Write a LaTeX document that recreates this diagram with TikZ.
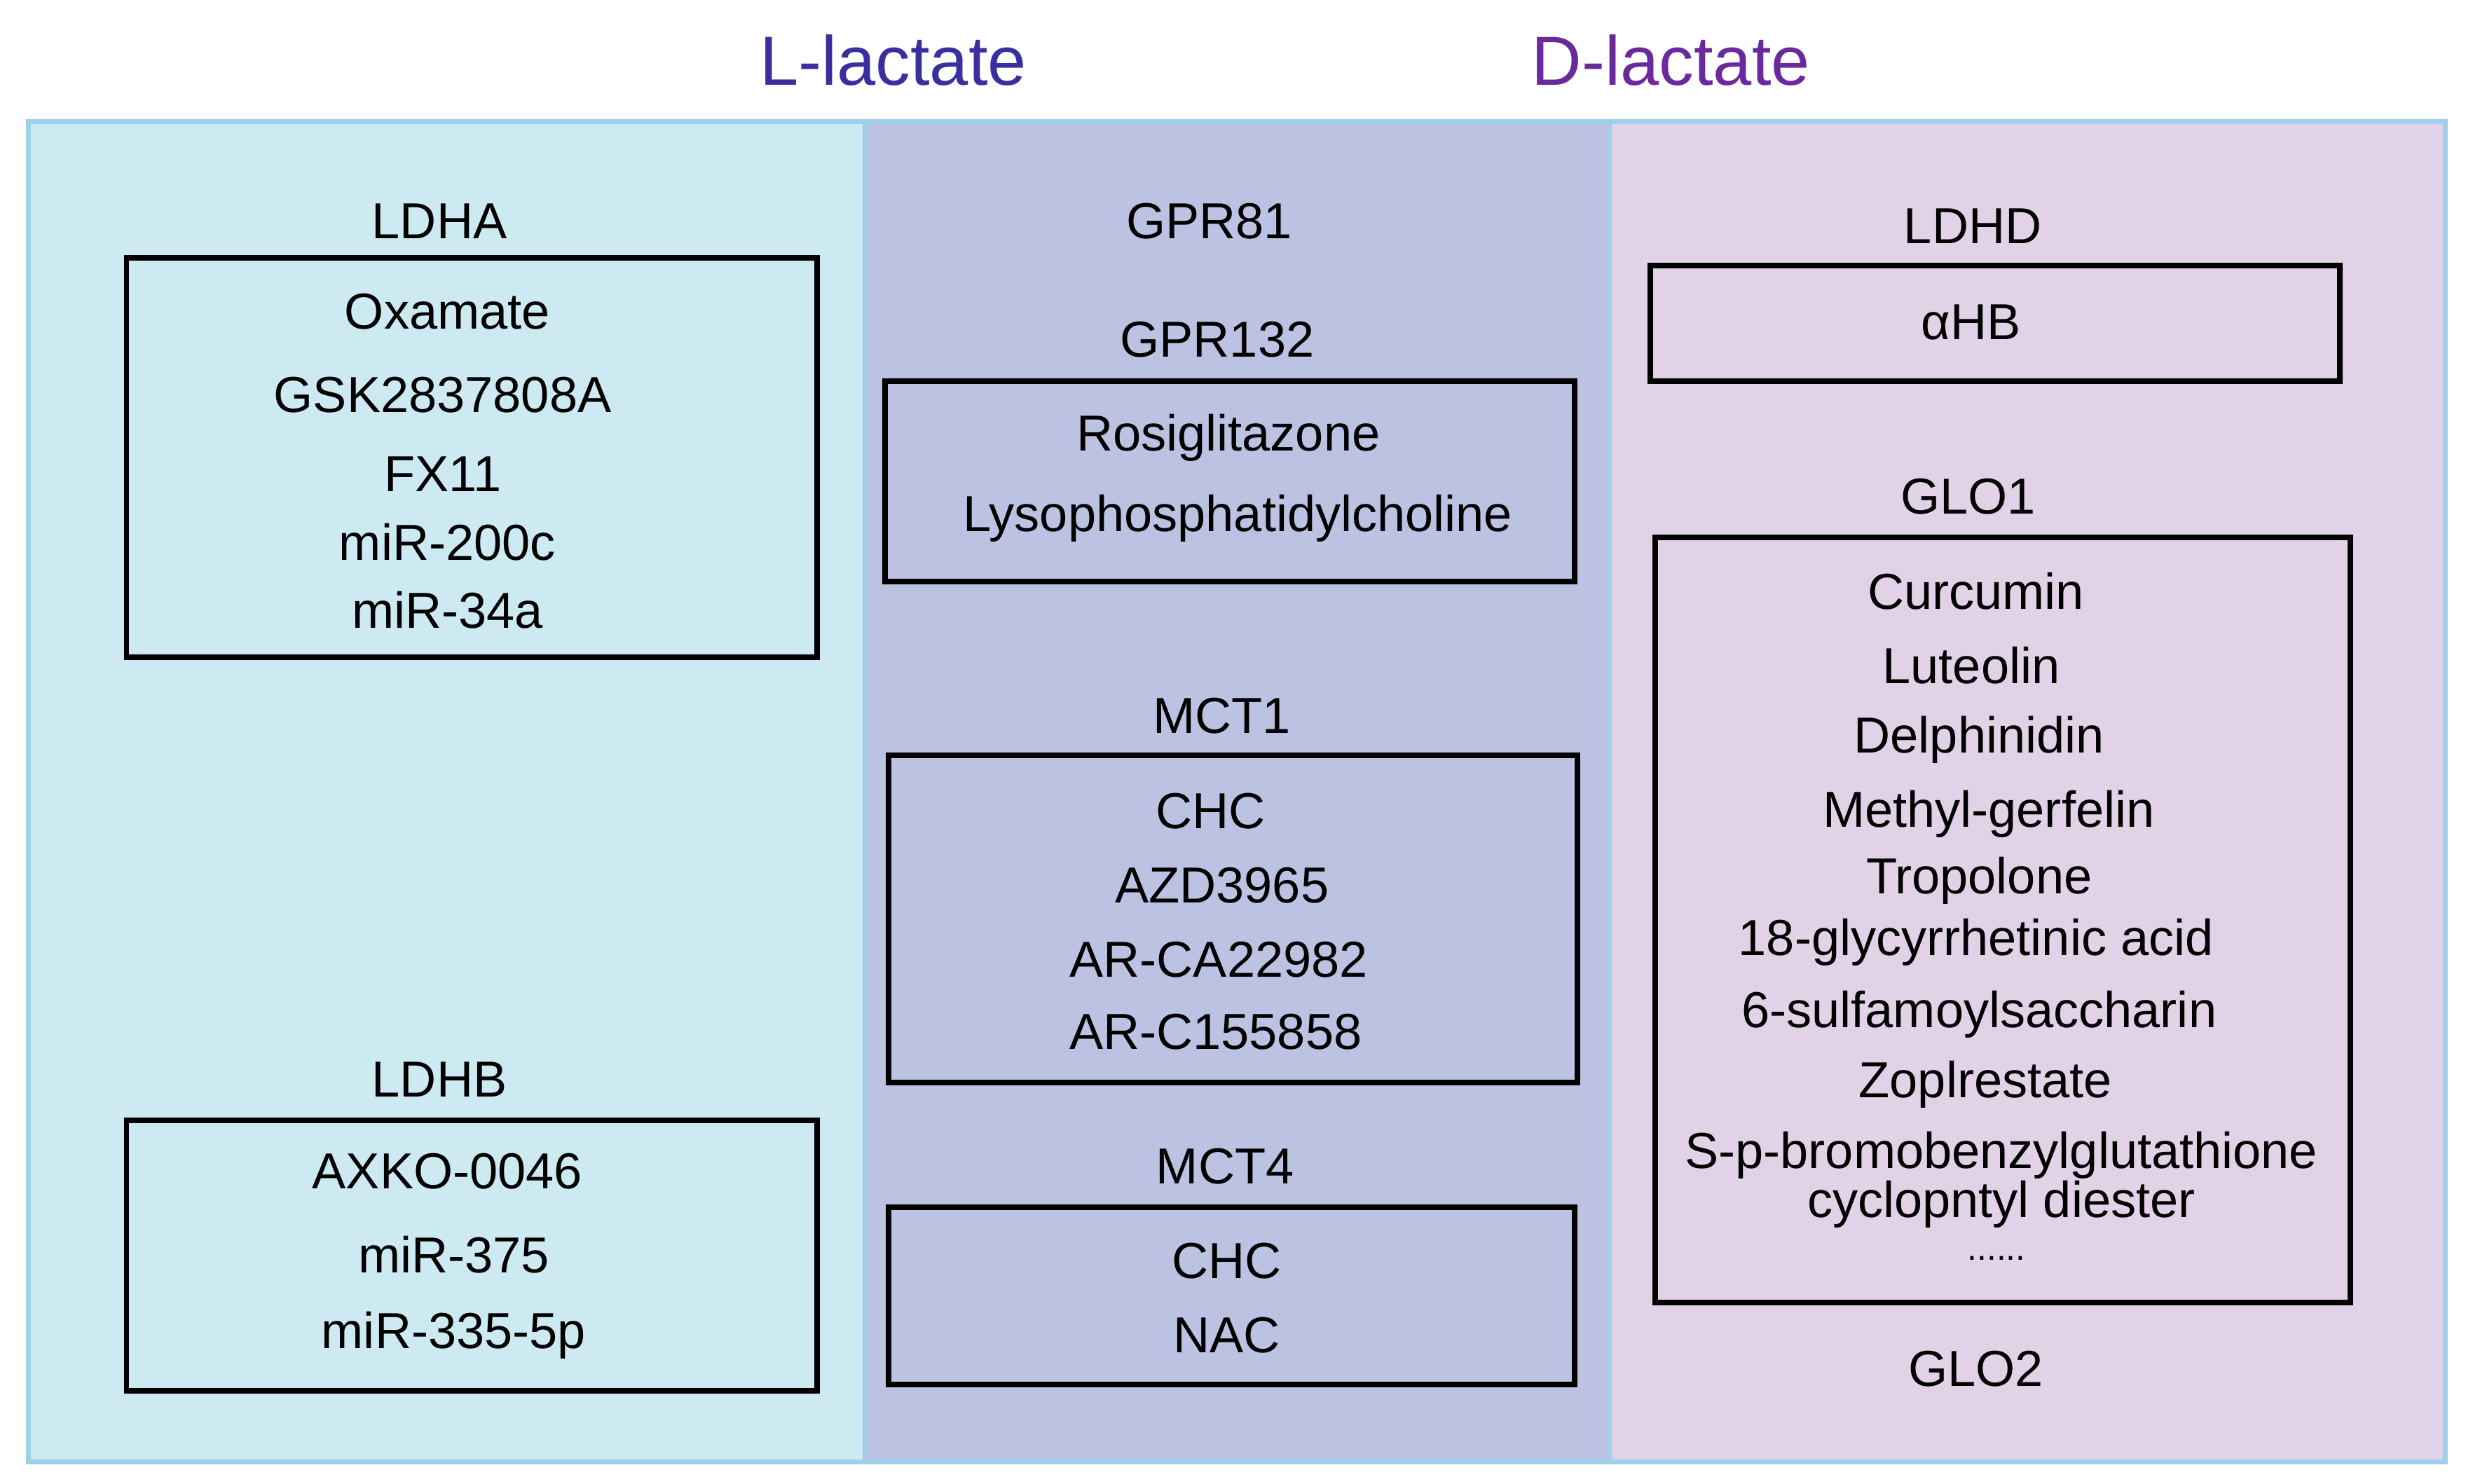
\documentclass[tikz,border=0pt]{standalone}
\usepackage{fontspec}
\setmainfont{Liberation Sans}
\definecolor{pL}{HTML}{CDEAF3}
\definecolor{pM}{HTML}{BCC3E2}
\definecolor{pR}{HTML}{E2D2E8}
\definecolor{pB}{HTML}{9FCFEA}
\definecolor{tL}{HTML}{3A2F9E}
\definecolor{tD}{HTML}{6A2A9C}
\begin{document}
\begin{tikzpicture}[x=1pt,y=-1pt,
  txt/.style={font=\fontsize{32}{36}\selectfont,inner sep=0pt,anchor=center},
  ttl/.style={font=\fontsize{44}{50}\selectfont,inner sep=0pt,anchor=center},
  bx/.style={draw=black,line width=3.5pt},
  pan/.style={draw=pB,line width=3pt}]
\useasboundingbox (0,0) rectangle (1560,938.5);
\fill[white] (0,0) rectangle (1560,938.5);
\filldraw[pan,fill=pL] (18,77) rectangle (547,925);
\filldraw[pan,fill=pM] (547,77) rectangle (1018,925);
\filldraw[pan,fill=pR] (1018,77) rectangle (1547,925);
\node[ttl,text=tL] (tl) at (565,38) {L-lactate};
\node[ttl,text=tD] (td) at (1057,38) {D-lactate};
% left
\node[txt] (ldha) at (278,140) {LDHA};
\draw[bx] (80,163) rectangle (517,416);
\node[txt] (a1) at (283,197) {Oxamate};
\node[txt] (a2) at (280,250) {GSK2837808A};
\node[txt] (a3) at (280,300) {FX11};
\node[txt] (a4) at (283,343) {miR-200c};
\node[txt] (a5) at (283,386) {miR-34a};
\node[txt] (ldhb) at (278,683) {LDHB};
\draw[bx] (80,709) rectangle (517,880);
\node[txt] (b1) at (283,741) {AXKO-0046};
\node[txt] (b2) at (287,794) {miR-375};
\node[txt] (b3) at (287,845) {miR-335-5p};
% middle
\node[txt] (g81) at (765,140) {GPR81};
\node[txt] (g132) at (770,215) {GPR132};
\draw[bx] (560,241) rectangle (996,368);
\node[txt] (c1) at (777,277) {Rosiglitazone};
\node[txt] (c2) at (783,328) {Lysophosphatidylcholine};
\node[txt] (m1) at (773,453) {MCT1};
\draw[bx] (562,478) rectangle (998,685);
\node[txt] (d1) at (766,513) {CHC};
\node[txt] (d2) at (773,560) {AZD3965};
\node[txt] (d3) at (771,607) {AR-CA22982};
\node[txt] (d4) at (769,653) {AR-C155858};
\node[txt] (m4) at (775,738) {MCT4};
\draw[bx] (562,764) rectangle (996,876);
\node[txt] (e1) at (776,798) {CHC};
\node[txt] (e2) at (776,845) {NAC};
% right
\node[txt] (ldhd) at (1248,143) {LDHD};
\draw[bx] (1044,168) rectangle (1480,241);
\node[txt] (f1) at (1247,204) {αHB};
\node[txt] (glo1) at (1245,314) {GLO1};
\draw[bx] (1047,340) rectangle (1487,824);
\node[txt] (h1) at (1250,374) {Curcumin};
\node[txt] (h2) at (1247,421) {Luteolin};
\node[txt] (h3) at (1252,468) {Delphinidin};
\node[txt] (h4) at (1258,515) {Methyl-gerfelin};
\node[txt] (h5) at (1252,557) {Tropolone};
\node[txt] (h6) at (1250,596) {18-glycyrrhetinic acid};
\node[txt] (h7) at (1252,642) {6-sulfamoylsaccharin};
\node[txt] (h8) at (1256,686) {Zoplrestate};
\node[txt] (h9) at (1266,731) {S-p-bromobenzylglutathione};
\node[txt] (h10) at (1266,762) {cyclopntyl diester};
\node[txt,font=\fontsize{22}{24}\selectfont] (h11) at (1263,796) {......};
\node[txt] (glo2) at (1250,866) {GLO2};
\end{tikzpicture}
\end{document}
